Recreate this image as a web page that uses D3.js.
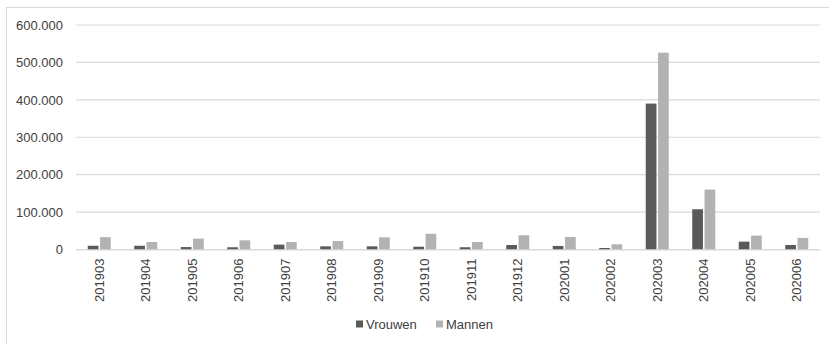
<!DOCTYPE html>
<html>
<head>
<meta charset="utf-8">
<script src="https://cdn.jsdelivr.net/npm/d3@7"></script>
<style>
  html, body { margin: 0; padding: 0; background: #fff; }
  svg { display: block; }
</style>
</head>
<body>
<svg id="chart" width="829" height="344"></svg>
<script>
const categories = ["201903","201904","201905","201906","201907","201908","201909","201910","201911","201912","202001","202002","202003","202004","202005","202006"];
const vrouwen = [10000, 10000, 6500, 6000, 13000, 8500, 8500, 7500, 6000, 12000, 9500, 4000, 390000, 107500, 21000, 12000];
const mannen  = [33000, 20000, 29000, 24500, 20000, 22500, 32500, 42000, 20000, 38000, 33500, 14000, 526000, 160000, 37000, 31000];
const seriesNames = ["Vrouwen", "Mannen"];
const yTicks = [0, 100000, 200000, 300000, 400000, 500000, 600000];

const colors = ["#5a5a5a", "#b2b2b2"];
const textColor = "#404040";
const font = "Liberation Sans, Arial, sans-serif";

const svg = d3.select("#chart");
const W = 829, H = 344;
const margin = { left: 76, right: 10, top: 25, bottom: 95 };
const plotRight = 820, plotBottom = 249.5;

// outer chart border (only left/top visible, cropped)
svg.append("rect").attr("x", 6.5).attr("y", 7.5).attr("width", 840).attr("height", 360)
  .attr("fill", "none").attr("stroke", "#d9d9d9").attr("stroke-width", 1);

const x = d3.scaleBand().domain(categories).range([margin.left, plotRight]).paddingInner(0).paddingOuter(0);
const y = d3.scaleLinear().domain([0, 600000]).range([plotBottom, 25]);

const fmt = v => d3.format(",")(v).replace(/,/g, ".");

// gridlines
svg.append("g").selectAll("line").data(yTicks).join("line")
  .attr("x1", margin.left).attr("x2", plotRight)
  .attr("y1", d => y(d)).attr("y2", d => y(d))
  .attr("stroke", "#d9d9d9").attr("stroke-width", 1.2);

// y axis labels
const yAxis = d3.axisLeft(y).tickValues(yTicks).tickFormat(fmt).tickSize(0).tickPadding(13);
const yg = svg.append("g").attr("transform", `translate(${margin.left},0)`).call(yAxis);
yg.select(".domain").remove();
yg.selectAll("text").attr("fill", textColor).style("font-family", font).style("font-size", "13px");

// bars
const x1 = d3.scaleBand().domain(seriesNames).range([0, 23]).paddingInner(0.13);
const data = categories.map((c, i) => ({ c, vals: [vrouwen[i], mannen[i]] }));
const groups = svg.append("g").selectAll("g").data(data).join("g")
  .attr("transform", d => `translate(${x(d.c) + x.bandwidth() / 2 - 11.5},0)`);
groups.selectAll("rect").data(d => d.vals.map((v, k) => ({ v, k }))).join("rect")
  .attr("x", d => x1(seriesNames[d.k]))
  .attr("width", x1.bandwidth())
  .attr("y", d => y(d.v))
  .attr("height", d => y(0) - y(d.v))
  .attr("fill", d => colors[d.k]);

// x axis
const xAxis = d3.axisBottom(x).tickSize(0).tickPadding(0);
const xg = svg.append("g").attr("transform", `translate(0,${plotBottom})`).call(xAxis);
xg.select(".domain").attr("stroke", "#d9d9d9").attr("stroke-width", 1.2);
xg.selectAll("text")
  .attr("fill", textColor).style("font-family", font).style("font-size", "13px")
  .attr("text-anchor", "end")
  .attr("transform", "rotate(-90)")
  .attr("x", -9).attr("y", 0).attr("dy", "0.35em");

// legend
const legend = svg.append("g").attr("transform", "translate(356,324)");
const items = [{ name: "Vrouwen", x: 0 }, { name: "Mannen", x: 80 }];
items.forEach((it, k) => {
  legend.append("rect").attr("x", it.x).attr("y", -3.5).attr("width", 7).attr("height", 7).attr("fill", colors[k]);
  legend.append("text").attr("x", it.x + 10).attr("y", 0).attr("dy", "0.35em")
    .attr("fill", textColor).style("font-family", font).style("font-size", "13px").text(it.name);
});
</script>
</body>
</html>
